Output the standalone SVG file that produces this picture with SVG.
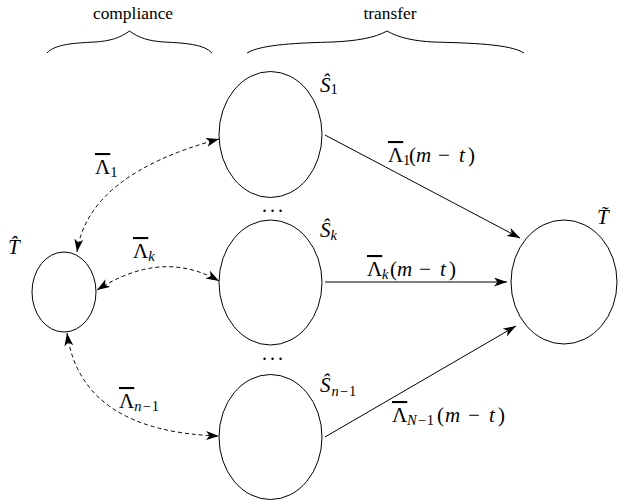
<svg xmlns="http://www.w3.org/2000/svg" width="637" height="501" viewBox="0 0 637 501">
<style>
.n{fill:none;stroke:#000;stroke-width:1}
.e{fill:none;stroke:#000;stroke-width:1}
.d{stroke-dasharray:4 3}
.w{font-family:"Liberation Serif","Times New Roman",serif;font-size:17.4px;fill:#000}
.m{font-family:"Liberation Serif","Times New Roman",serif;font-size:21px;fill:#000}
.i{font-style:italic}
.s{font-size:14.5px}
.o{text-decoration:overline}
.dots{font-family:"Liberation Serif",serif;font-size:20px;letter-spacing:3px}
</style>
<defs>
<marker id="ah" markerUnits="userSpaceOnUse" markerWidth="14" markerHeight="10" refX="13" refY="4.5" orient="auto-start-reverse" viewBox="0 0 14 10">
<path d="M0,0 L13,4.5 L0,9 L3.5,4.5 Z" fill="#000"/>
</marker>
</defs>
<g id="braces">
<text class="w" x="133" y="19" text-anchor="middle">compliance</text>
<path class="e" d="M47,53 C55,44 75,43 95,42 C110,41 120,38 129.5,31 C139,38 149,41 164,42 C184,43 204,44 212,53"/>
<text class="w" x="390" y="19" text-anchor="middle">transfer</text>
<path class="e" d="M247,53 C262,44 300,43 333,42 C355,41 375,38 387,31 C399,38 415,41 433,42 C470,43 510,44 524,53"/>
</g>
<g id="connectors">
<path class="e" d="M325,135 L520,238" marker-end="url(#ah)"/>
<path class="e" d="M325,282 L507,282" marker-end="url(#ah)"/>
<path class="e" d="M325,437 L516,326" marker-end="url(#ah)"/>
<path class="e d" d="M77,252 Q88,174.5 219,139" marker-start="url(#ah)" marker-end="url(#ah)"/>
<path class="e d" d="M97,290 Q162,248.5 219,281" marker-start="url(#ah)" marker-end="url(#ah)"/>
<path class="e d" d="M67,333 Q81,431.5 219,436" marker-start="url(#ah)" marker-end="url(#ah)"/>
<text class="m" x="95" y="174"><tspan class="o">Λ</tspan><tspan class="s" dy="3">1</tspan></text>
<text class="m" x="133" y="258"><tspan class="o">Λ</tspan><tspan class="s i" dy="3">k</tspan></text>
<text class="m" x="119" y="408"><tspan class="o">Λ</tspan><tspan class="s" dy="3"><tspan class="i">n</tspan><tspan dx="1">−</tspan><tspan dx="1">1</tspan></tspan></text>
<text class="m" y="162"><tspan class="o" x="388">Λ</tspan><tspan class="s" x="403" dy="3">1</tspan><tspan x="409" dy="-3">(</tspan><tspan class="i" x="416">m</tspan><tspan x="438">−</tspan><tspan class="i" x="459">t</tspan><tspan x="468">)</tspan></text>
<text class="m" y="276"><tspan class="o" x="367">Λ</tspan><tspan class="s i" x="382" dy="3">k</tspan><tspan x="390" dy="-3">(</tspan><tspan class="i" x="397">m</tspan><tspan x="419">−</tspan><tspan class="i" x="440">t</tspan><tspan x="449">)</tspan></text>
<text class="m" y="422"><tspan class="o" x="392">Λ</tspan><tspan class="s" x="407" dy="3"><tspan class="i">N</tspan><tspan dx="1">−</tspan><tspan dx="1">1</tspan></tspan><tspan x="437" dy="-3">(</tspan><tspan class="i" x="445">m</tspan><tspan x="468">−</tspan><tspan class="i" x="489">t</tspan><tspan x="498">)</tspan></text>
</g>
<g id="S1">
<ellipse class="n" cx="270.5" cy="134.5" rx="51.5" ry="63"/>
<text class="m" x="320" y="92"><tspan class="i">Ŝ</tspan><tspan class="s" dy="2">1</tspan></text>
</g>
<text class="dots" x="262" y="212">...</text>
<g id="Sk">
<ellipse class="n" cx="270.5" cy="282.5" rx="51.5" ry="62.5"/>
<text class="m" x="320" y="237"><tspan class="i">Ŝ</tspan><tspan class="s i" dy="3">k</tspan></text>
</g>
<text class="dots" x="262" y="360">...</text>
<g id="Sn1">
<ellipse class="n" cx="270.5" cy="437" rx="51.5" ry="62.5"/>
<text class="m" x="320" y="392"><tspan class="i">Ŝ</tspan><tspan class="s" dy="4" dx="1"><tspan class="i">n</tspan><tspan dx="1">−</tspan><tspan dx="1">1</tspan></tspan></text>
</g>
<g id="That">
<ellipse class="n" cx="64" cy="292" rx="32" ry="40"/>
<text class="m i" x="8" y="254">T̂</text>
</g>
<g id="Ttilde">
<ellipse class="n" cx="564" cy="282" rx="53" ry="62"/>
<text class="m i" x="597" y="224">T̃</text>
</g>
</svg>
